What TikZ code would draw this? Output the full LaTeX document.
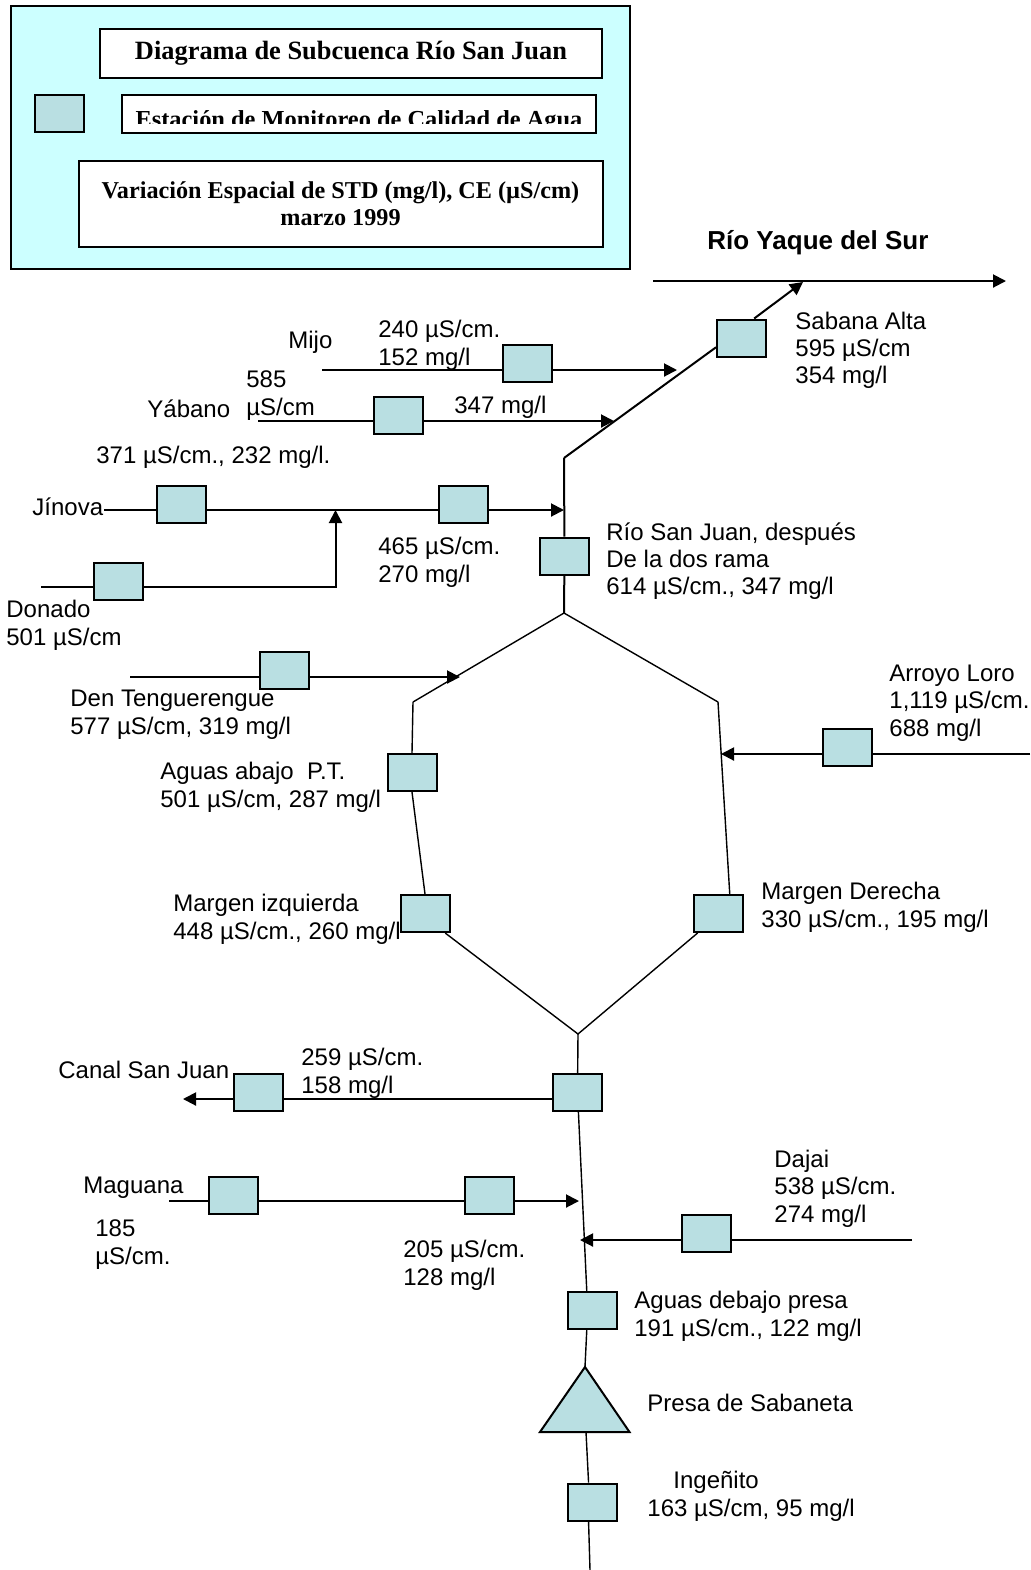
\documentclass[tikz,border=0pt]{standalone}
\usepackage{fontspec}
\setmainfont{Liberation Serif}
\setsansfont{Liberation Sans}
\usepackage{tikz}
\usetikzlibrary{arrows.meta, positioning, calc}
\definecolor{estacion}{RGB}{185,223,226}
\definecolor{leyenda}{RGB}{204,255,255}

\begin{document}
\begin{tikzpicture}[x=0.5pt, y=-0.5pt,
    font=\sffamily\fontsize{12}{13.6}\selectfont,
    station/.style={draw, fill=estacion, line width=1pt, minimum width=24.5pt, minimum height=18.5pt, inner sep=0pt},
    rio/.style={line width=1pt},
    rama/.style={line width=0.7pt},
    flecha/.style={-{Triangle[length=6.5pt, width=6.5pt]}},
    lbl/.style={anchor=base west, align=left, inner sep=0pt},
    rotulo/.style={draw, fill=white, line width=1pt, inner sep=0pt, font=\rmfamily\bfseries\fontsize{13.2}{13.5}\selectfont}]
    \useasboundingbox (0,0) rectangle (1030,1570);
    \draw[fill=leyenda, line width=1.2pt] (11,6) rectangle (630,269);
    \node[rotulo, minimum width=251pt, minimum height=24.5pt] (titulo) at (351,53.5) {Diagrama de Subcuenca Río San Juan};
    \node[station] (clave) at (59.5,113.5) {};
    \node[rotulo, minimum width=237pt, minimum height=19pt] (clavetexto) at (359,113.5) {};
    \begin{scope}
        \clip (121,94) rectangle (597,123);
        \node[anchor=base, inner sep=0pt, font=\rmfamily\bfseries\fontsize{12.2}{13.5}\selectfont] (clavenombre) at (359,127) {Estación de Monitoreo de Calidad de Agua};
    \end{scope}
    \node[rotulo, minimum width=262pt, minimum height=43pt, align=center, font=\rmfamily\bfseries\fontsize{12.1}{13.5}\selectfont] (periodo) at (340.5,203.5) {Variación Espacial de STD (mg/l), CE (µS/cm)\\marzo 1999};
    \node[anchor=base west, inner sep=0pt, font=\sffamily\bfseries\fontsize{13}{15}\selectfont] (yaque) at (707,249) {Río Yaque del Sur};

    \coordinate (yaqueO) at (653,281);
    \coordinate (yaqueE) at (1006,281);
    \coordinate (yaqueJ) at (803,282);
    \coordinate (codo) at (564,458);
    \coordinate (hexN) at (564,613);
    \coordinate (hexO) at (413,702);
    \coordinate (hexE) at (718,702);
    \coordinate (hexS) at (578,1034);
    \coordinate (presaN) at (585,1367);
    \coordinate (presaB) at (586,1432);
    \coordinate (fin) at (590,1570);
    \coordinate (mijoO) at (322,370);
    \coordinate (mijoF) at (677,370);
    \coordinate (yabanoO) at (258,421);
    \coordinate (yabanoF) at (614,421);
    \coordinate (jinovaO) at (104,510);
    \coordinate (jinovaF) at (564,510);
    \coordinate (donadoO) at (41,587);
    \coordinate (donadoC) at (335.5,587);
    \coordinate (donadoF) at (335.5,510);
    \coordinate (tengueO) at (130,677);
    \coordinate (tengueF) at (460,677);
    \coordinate (loroO) at (1030,754);
    \coordinate (loroF) at (721,754);
    \coordinate (canalF) at (183,1099);
    \coordinate (maguanaO) at (169,1201);
    \coordinate (maguanaF) at (579,1201);
    \coordinate (dajaiO) at (912,1240);
    \coordinate (dajaiF) at (580,1240);

    \node[station] (sabana) at (741.5,338) {};
    \node[station] (mijo) at (527.5,363.5) {};
    \node[station] (yabano) at (398.5,415) {};
    \node[station] (jinova1) at (181.5,504) {};
    \node[station] (jinova2) at (463.5,504) {};
    \node[station] (donado) at (118,581.5) {};
    \node[station] (sanjuan) at (564.5,556) {};
    \node[station] (tengue) at (284,670.5) {};
    \node[station] (loro) at (847.5,747) {};
    \node[station] (pt) at (412,772.5) {};
    \node[station] (izq) at (425,913.5) {};
    \node[station] (der) at (718.5,913.5) {};
    \node[station] (canal1) at (577.5,1092.5) {};
    \node[station] (canal2) at (258.5,1092.5) {};
    \node[station] (maguana1) at (233,1195) {};
    \node[station] (maguana2) at (489,1195) {};
    \node[station] (dajai) at (706,1233.5) {};
    \node[station] (presa) at (592,1310.5) {};
    \node[station] (ingenito) at (592,1502) {};
    \filldraw[fill=estacion, line width=1pt] (presaN) -- (540,1432) -- (629.5,1432) -- cycle;

    \draw[rio, flecha] (yaqueO) -- (yaqueE);
    \draw[rio, flecha] (sabana.57) -- (yaqueJ);
    \draw[rio] (codo) -- (sabana.200);
    \draw[rio] (hexN) -- (sanjuan) -- (codo);
    \draw[rama] (hexO) -- (hexN) -- (hexE);
    \draw[rama] (hexO) -- (pt.north);
    \draw[rama] (pt.south) -- (izq.north);
    \draw[rama] (izq.-44) -- (hexS) -- (der.223);
    \draw[rama] (hexE) -- (der.60);
    \draw[rama] (hexS) -- (canal1) -- (presa.105);
    \draw[rama] (presa.-105) -- (presaN);
    \draw[rama] (presaB) -- (ingenito.100);
    \draw[rama] (ingenito.-100) -- (fin);

    \draw[rio] (mijoO) -- (mijo.west |- mijoO);
    \draw[rio, flecha] (mijo.east |- mijoO) -- (mijoF);
    \draw[rio] (yabanoO) -- (yabano.west |- yabanoO);
    \draw[rio, flecha] (yabano.east |- yabanoO) -- (yabanoF);
    \draw[rio] (jinovaO) -- (jinova1.west |- jinovaO);
    \draw[rio] (jinova1.east |- jinovaO) -- (jinova2.west |- jinovaO);
    \draw[rio, flecha] (jinova2.east |- jinovaO) -- (jinovaF);
    \draw[rio] (donadoO) -- (donado.west |- donadoO);
    \draw[rio, flecha] (donado.east |- donadoO) -- (donadoC) -- (donadoF);
    \draw[rio] (tengueO) -- (tengue.west |- tengueO);
    \draw[rio, flecha] (tengue.east |- tengueO) -- (tengueF);
    \draw[rio] (loroO) -- (loro.east |- loroO);
    \draw[rio, flecha] (loro.west |- loroO) -- (loroF);
    \draw[rio] (canal1.west |- canalF) -- (canal2.east |- canalF);
    \draw[rio, flecha] (canal2.west |- canalF) -- (canalF);
    \draw[rio] (maguanaO) -- (maguana1.west |- maguanaO);
    \draw[rio] (maguana1.east |- maguanaO) -- (maguana2.west |- maguanaO);
    \draw[rio, flecha] (maguana2.east |- maguanaO) -- (maguanaF);
    \draw[rio] (dajaiO) -- (dajai.east |- dajaiO);
    \draw[rio, flecha] (dajai.west |- dajaiO) -- (dajaiF);

    \node[lbl] (sabanaT) at (795,383.5) {Sabana Alta\\595 µS/cm\\354 mg/l};
    \node[lbl] (mijoT) at (288,348) {Mijo};
    \node[lbl] (mijoV) at (378,365) {240 µS/cm.\\152 mg/l};
    \node[lbl] (yabanoT) at (147,417) {Yábano};
    \node[lbl] (yabanoV) at (246,415) {585\\µS/cm};
    \node[lbl] (yabanoS) at (454,413) {347 mg/l};
    \node[lbl] (jinovaV) at (96,463) {371 µS/cm., 232 mg/l.};
    \node[lbl] (jinovaT) at (32,515) {Jínova};
    \node[lbl] (jinova2V) at (378,582) {465 µS/cm.\\270 mg/l};
    \node[lbl] (donadoT) at (6,645) {Donado\\501 µS/cm};
    \node[lbl] (sanjuanT) at (606,594.5) {Río San Juan, después\\De la dos rama\\614 µS/cm., 347 mg/l};
    \node[lbl] (tengueT) at (70,734) {Den Tenguerengue\\577 µS/cm, 319 mg/l};
    \node[lbl] (loroT) at (889,736) {Arroyo Loro\\1,119 µS/cm.\\688 mg/l};
    \node[lbl] (ptT) at (160,807) {Aguas abajo\ \ P.T.\\501 µS/cm, 287 mg/l};
    \node[lbl] (izqT) at (173,939) {Margen izquierda\\448 µS/cm., 260 mg/l};
    \node[lbl] (derT) at (761,927) {Margen Derecha\\330 µS/cm., 195 mg/l};
    \node[lbl] (canalT) at (58,1078) {Canal San Juan};
    \node[lbl] (canalV) at (301,1093) {259 µS/cm.\\158 mg/l};
    \node[lbl] (maguanaT) at (83,1193) {Maguana};
    \node[lbl] (maguanaV) at (95,1264) {185\\µS/cm.};
    \node[lbl] (maguana2V) at (403,1285) {205 µS/cm.\\128 mg/l};
    \node[lbl] (dajaiT) at (774,1222) {Dajai\\538 µS/cm.\\274 mg/l};
    \node[lbl] (presaT) at (634,1336) {Aguas debajo presa\\191 µS/cm., 122 mg/l};
    \node[lbl] (presaS) at (647,1411) {Presa de Sabaneta};
    \node[lbl] (ingenitoT) at (647,1516) {\hspace*{13pt}Ingeñito\\163 µS/cm, 95 mg/l};
\end{tikzpicture}
\end{document}
